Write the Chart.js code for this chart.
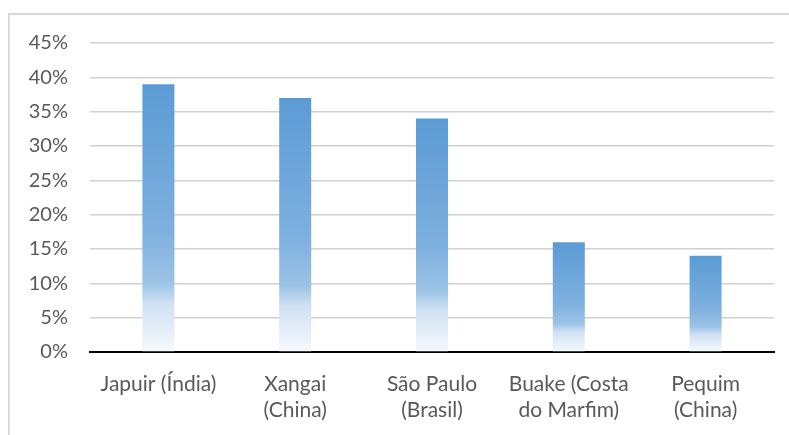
<!DOCTYPE html>
<html>
<head>
<meta charset="utf-8">
<script src="https://cdn.jsdelivr.net/npm/chart.js@4"></script>
<style>
  html, body { margin: 0; padding: 0; background: #fff; }
  #wrap { position: relative; width: 789px; height: 435px; }
</style>
</head>
<body>
<div id="wrap"><canvas id="chart" width="789" height="435"></canvas></div>
<script>
const cities = [
    ['Japuir (Índia)'],
    ['Xangai', '(China)'],
    ['São Paulo', '(Brasil)'],
    ['Buake (Costa', 'do Marfim)'],
    ['Pequim', '(China)']
];
const shares = [39, 37, 34, 16, 14];
const yTicks = [0, 5, 10, 15, 20, 25, 30, 35, 40, 45];

// gradient per bar, from dark blue on top down to nearly white at the base
function barFill(ctx) {
    const chart = ctx.chart;
    if (!chart.chartArea || ctx.dataIndex === undefined) return '#5B9BD5';
    const y = chart.scales.y;
    const top = y.getPixelForValue(shares[ctx.dataIndex]);
    const base = y.getPixelForValue(0);
    const g = chart.ctx.createLinearGradient(0, top, 0, base);
    g.addColorStop(0, '#5B9BD5');
    g.addColorStop(0.55, '#7EB0DF');
    g.addColorStop(0.74, '#9CC3E7');
    g.addColorStop(0.82, '#CFE1F3');
    g.addColorStop(1, '#F6F9FD');
    return g;
}

const frame = {
    id: 'frame',
    beforeDraw(chart) {
        const c = chart.ctx;
        c.save();
        c.strokeStyle = '#D9D9D9';
        c.lineWidth = 2;
        c.strokeRect(9, 14, 800, 440);
        c.restore();
    }
};

new Chart(document.getElementById('chart').getContext('2d'), {
    type: 'bar',
    data: {
        labels: cities,
        datasets: [{
            data: shares,
            backgroundColor: barFill,
            borderWidth: 0,
            categoryPercentage: 1,
            barPercentage: 0.234
        }]
    },
    options: {
        responsive: false,
        animation: false,
        layout: { padding: { left: 0, top: 43, right: 15, bottom: 0 } },
        plugins: {
            legend: { display: false },
            tooltip: { enabled: false }
        },
        scales: {
            x: {
                grid: { display: false, drawTicks: false },
                border: { display: true, color: '#000000', width: 2 },
                ticks: {
                    color: '#595959',
                    padding: 19,
                    maxRotation: 0,
                    autoSkip: false,
                    font: { family: 'Lato', size: 21, lineHeight: 1.24 }
                },
                afterFit(scale) { scale.height = 83; }
            },
            y: {
                min: 0,
                max: 45,
                afterBuildTicks(scale) {
                    scale.ticks = yTicks.map(v => ({ value: v }));
                },
                grid: {
                    drawTicks: false,
                    color: ctx => ctx.tick && ctx.tick.value === 0 ? 'rgba(0,0,0,0)' : '#D0D0D0',
                    lineWidth: 1.5
                },
                border: { display: false },
                ticks: {
                    color: '#595959',
                    padding: 22,
                    font: { family: 'Lato', size: 20 },
                    callback: v => v + '%'
                },
                afterFit(scale) { scale.width = 90; }
            }
        }
    },
    plugins: [frame]
});
</script>
</body>
</html>
